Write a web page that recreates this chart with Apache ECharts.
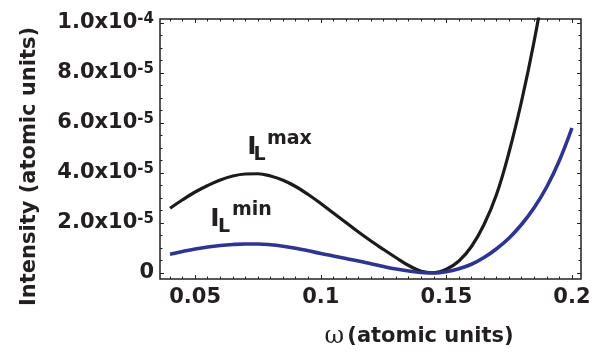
<!DOCTYPE html>
<html>
<head>
<meta charset="utf-8">
<script src="https://cdn.jsdelivr.net/npm/echarts@6/dist/echarts.min.js"></script>
<style>
html,body{margin:0;padding:0;background:#fff;}
#chart{width:601px;height:354px;}
</style>
</head>
<body>
<div id="chart"></div>
<script>
// ---- data ----
const omega = [0.040,0.045,0.050,0.055,0.060,0.065,0.070,0.075,0.080,0.085,0.090,0.095,0.100,0.105,0.110,0.115,0.120,0.125,0.130,0.135,0.140,0.145,0.150,0.155,0.160,0.165,0.170,0.175,0.180,0.185,0.190,0.195,0.200];
const intensityMax = [2.59e-5,2.93e-5,3.24e-5,3.50e-5,3.72e-5,3.88e-5,3.96e-5,3.97e-5,3.88e-5,3.71e-5,3.46e-5,3.14e-5,2.78e-5,2.40e-5,2.02e-5,1.64e-5,1.28e-5,0.94e-5,0.61e-5,0.30e-5,0.07e-5,0.01e-5,0.15e-5,0.48e-5,1.06e-5,1.94e-5,3.15e-5,4.85e-5,6.90e-5,9.30e-5,12.1e-5,null,null];
const intensityMin = [0.75e-5,0.86e-5,0.96e-5,1.04e-5,1.10e-5,1.14e-5,1.16e-5,1.16e-5,1.13e-5,1.07e-5,0.99e-5,0.89e-5,0.78e-5,0.68e-5,0.58e-5,0.48e-5,0.37e-5,0.26e-5,0.16e-5,0.08e-5,0.02e-5,0.00,0.05e-5,0.17e-5,0.35e-5,0.62e-5,0.97e-5,1.40e-5,1.95e-5,2.62e-5,3.45e-5,4.50e-5,5.80e-5];

const xTickValues = [0.05, 0.1, 0.15, 0.2];
const xTickLabels = ['0.05', '0.1', '0.15', '0.2'];
const yTickValues = [0, 2e-5, 4e-5, 6e-5, 8e-5, 1e-4];
const yTickMantissa = ['0', '2.0x10', '4.0x10', '6.0x10', '8.0x10', '1.0x10'];
const yTickExponent = ['', '-5', '-5', '-5', '-5', '-4'];

const X_MIN = 0.036, X_MAX = 0.2036;
const Y_MIN = -0.24e-5, Y_MAX = 1.016e-4;

// minor tick positions
const xMinorTicks = [];
for (let i = 8; i <= 40; i++) xMinorTicks.push(+(i * 0.005).toFixed(3));
const yMinorTicks = [];
for (let i = 0; i <= 20; i++) yMinorTicks.push(+(i * 0.5e-5).toExponential(2));

const INK = '#231f20';
const FONT = '"DejaVu Sans", sans-serif';

function idx(arr, v) {
  let best = 0, bd = Infinity;
  arr.forEach((a, i) => { const d = Math.abs(a - v); if (d < bd) { bd = d; best = i; } });
  return best;
}

function xAxisDef(pos, ticks, len, labels) {
  return {
    type: 'value', position: pos, min: X_MIN, max: X_MAX, gridIndex: 0,
    axisLine: { show: false, onZero: false },
    splitLine: { show: false },
    axisTick: { show: true, inside: true, length: len, customValues: ticks, lineStyle: { color: INK, width: 1 } },
    axisLabel: labels ? {
      show: true, customValues: xTickValues, margin: 8,
      color: INK, fontFamily: FONT, fontWeight: 'bold', fontSize: 21,
      formatter: v => xTickLabels[idx(xTickValues, v)]
    } : { show: false }
  };
}
function yAxisDef(pos, ticks, len, labels) {
  return {
    type: 'value', position: pos, min: Y_MIN, max: Y_MAX, gridIndex: 0,
    axisLine: { show: false, onZero: false },
    splitLine: { show: false },
    axisTick: { show: true, inside: true, length: len, customValues: ticks, lineStyle: { color: INK, width: 1 } },
    axisLabel: labels ? {
      show: true, customValues: yTickValues, margin: 6,
      formatter: v => {
        const i = idx(yTickValues, v);
        return yTickExponent[i] ? '{b|' + yTickMantissa[i] + '}{s|' + yTickExponent[i] + '}' : '{b|' + yTickMantissa[i] + '}';
      },
      rich: {
        b: { color: INK, fontFamily: FONT, fontWeight: 'bold', fontSize: 21, lineHeight: 22 },
        s: { color: INK, fontFamily: FONT, fontWeight: 'bold', fontSize: 15, lineHeight: 15, verticalAlign: 'top' }
      }
    } : { show: false }
  };
}

const chart = echarts.init(document.getElementById('chart'), null, { renderer: 'canvas' });
chart.setOption({
  animation: false,
  backgroundColor: '#ffffff',
  grid: { left: 160, right: 20, top: 19, bottom: 75, show: true, borderColor: INK, borderWidth: 1.5, backgroundColor: 'transparent', containLabel: false, outerBoundsMode: 'none' },
  xAxis: [
    xAxisDef('bottom', xTickValues, 4, true),
    xAxisDef('bottom', xMinorTicks, 2.5, false),
    xAxisDef('top', xTickValues, 4, false),
    xAxisDef('top', xMinorTicks, 2.5, false)
  ],
  yAxis: [
    yAxisDef('left', yTickValues, 4, true),
    yAxisDef('left', yMinorTicks, 2.5, false),
    yAxisDef('right', yTickValues, 4, false),
    yAxisDef('right', yMinorTicks, 2.5, false)
  ],
  series: [
    {
      name: 'IL max', type: 'line', xAxisIndex: 0, yAxisIndex: 0,
      data: omega.map((w, i) => [w, intensityMax[i]]),
      showSymbol: false, smooth: 0.4, clip: true, connectNulls: false,
      lineStyle: { color: '#1c1a1a', width: 3.2 }
    },
    {
      name: 'IL min', type: 'line', xAxisIndex: 0, yAxisIndex: 0,
      data: omega.map((w, i) => [w, intensityMin[i]]),
      showSymbol: false, smooth: 0.4, clip: true,
      lineStyle: { color: '#2d3590', width: 3.6 }
    }
  ],
  graphic: [
    { type: 'text', x: 30, y: 166.5, rotation: Math.PI / 2,
      style: { text: 'Intensity (atomic units)', fill: INK, font: 'bold 21px ' + FONT, align: 'center', verticalAlign: 'middle' } },
    { type: 'text', x: 419, y: 337,
      style: { text: '{w|ω} {t|(atomic units)}', align: 'center', verticalAlign: 'middle',
        rich: {
          w: { fill: INK, fontFamily: '"DejaVu Serif", serif', fontSize: 24 },
          t: { fill: INK, fontFamily: FONT, fontWeight: 'bold', fontSize: 21 }
        } } },
    { type: 'text', x: 252, y: 147.5, style: { text: 'I', fill: INK, font: 'bold 25px ' + FONT, align: 'center', verticalAlign: 'middle' } },
    { type: 'text', x: 259.5, y: 155, style: { text: 'L', fill: INK, font: 'bold 19px ' + FONT, align: 'center', verticalAlign: 'middle' } },
    { type: 'text', x: 267, y: 139, style: { text: 'max', fill: INK, font: 'bold 19px ' + FONT, align: 'left', verticalAlign: 'middle' } },
    { type: 'text', x: 215, y: 219.5, style: { text: 'I', fill: INK, font: 'bold 25px ' + FONT, align: 'center', verticalAlign: 'middle' } },
    { type: 'text', x: 224, y: 227.5, style: { text: 'L', fill: INK, font: 'bold 19px ' + FONT, align: 'center', verticalAlign: 'middle' } },
    { type: 'text', x: 232, y: 210, style: { text: 'min', fill: INK, font: 'bold 19px ' + FONT, align: 'left', verticalAlign: 'middle' } }
  ]
});
</script>
</body>
</html>
